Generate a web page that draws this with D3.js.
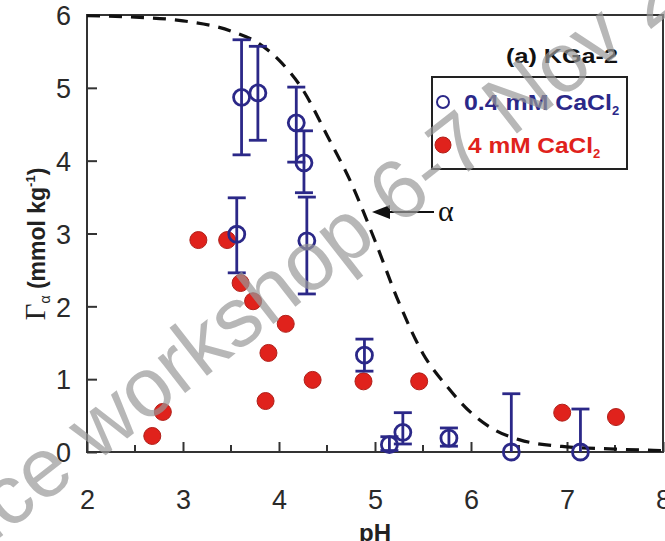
<!DOCTYPE html>
<html>
<head>
<meta charset="utf-8">
<script src="https://cdn.jsdelivr.net/npm/d3@7"></script>
<style>
  body { margin: 0; background: #fff; }
  svg { display: block; }
</style>
</head>
<body>
<div id="chart"></div>
<script>
// 0.4 mM CaCl2 : pH, surface excess, error bar low / high
const lowPH   = [3.61, 3.78, 4.18, 4.26, 4.29, 3.56, 4.89, 5.15, 5.29, 5.77, 6.42, 7.14];
const lowVal  = [4.87, 4.93, 4.52, 3.97, 2.90, 2.99, 1.33, 0.10, 0.27, 0.19, 0.00, 0.00];
const lowErrLo = [4.08, 4.28, 3.98, 3.56, 2.17, 2.46, 1.11, 0.02, 0.11, 0.08, 0.00, 0.00];
const lowErrHi = [5.66, 5.57, 5.01, 4.41, 3.50, 3.49, 1.55, 0.21, 0.54, 0.33, 0.80, 0.59];

// 4 mM CaCl2
const highPH  = [3.16, 3.46, 3.60, 3.73, 4.07, 3.89, 4.35, 3.86, 2.79, 2.68, 4.88, 5.46, 6.95, 7.51];
const highVal = [2.91, 2.91, 2.32, 2.07, 1.76, 1.36, 0.99, 0.70, 0.55, 0.22, 0.97, 0.97, 0.54, 0.48];

// dashed model curve
const curvePH  = [2.0, 2.5, 3.0, 3.5, 3.8, 4.0, 4.25, 4.5, 4.75, 5.0, 5.25, 5.5, 5.75, 6.0, 6.25, 6.5, 7.0, 7.5, 8.0];
const curveVal = [5.99, 5.97, 5.92, 5.78, 5.6, 5.38, 4.97, 4.35, 3.7, 2.9, 2.05, 1.35, 0.9, 0.54, 0.3, 0.17, 0.07, 0.04, 0.02];

const xTicks = [2, 3, 4, 5, 6, 7, 8];
const xMinor = [2.5, 3.5, 4.5, 5.5, 6.5, 7.5];
const yTicks = [0, 1, 2, 3, 4, 5, 6];

const width = 665, height = 541;
const navy = "#2b2888", red = "#e0221c";
const sans = "'Liberation Sans', Arial, sans-serif";
const serif = "'Liberation Serif', 'Times New Roman', serif";

const svg = d3.select("#chart").append("svg")
    .attr("width", width)
    .attr("height", height);

const x = d3.scaleLinear().domain([2, 8]).range([87, 663]);
const y = d3.scaleLinear().domain([0, 6]).range([452, 15]);

// frame
svg.append("rect")
    .attr("x", x(2)).attr("y", y(6))
    .attr("width", x(8) - x(2)).attr("height", y(0) - y(6))
    .attr("fill", "none").attr("stroke", "#333").attr("stroke-width", 2);

// x axis, ticks pointing in
const xAxis = svg.append("g")
    .attr("transform", `translate(0,${y(0)})`)
    .call(d3.axisBottom(x).tickValues(xTicks).tickSize(-10).tickPadding(36).tickFormat(d3.format("d")));
xAxis.append("g").selectAll("line")
    .data(xMinor)
    .join("line")
    .attr("x1", d => x(d)).attr("x2", d => x(d))
    .attr("y1", 0).attr("y2", -7)
    .attr("stroke", "#333").attr("stroke-width", 2);

const yAxis = svg.append("g")
    .attr("transform", `translate(${x(2)},0)`)
    .call(d3.axisLeft(y).tickValues(yTicks).tickSize(-10).tickPadding(16).tickFormat(d3.format("d")));

[xAxis, yAxis].forEach(g => {
    g.select(".domain").remove();
    g.selectAll(".tick line").attr("stroke", "#333").attr("stroke-width", 2);
    g.selectAll(".tick text")
        .attr("fill", "#2a2a2a")
        .style("font-family", sans)
        .style("font-size", "27px");
});
xAxis.selectAll(".tick text").attr("dy", 0).attr("y", 57);
yAxis.selectAll(".tick text").attr("dy", "0.36em");

// axis titles
svg.append("text")
    .attr("x", x(5)).attr("y", 541)
    .attr("text-anchor", "middle")
    .style("font-family", sans).style("font-size", "24px").style("font-weight", "bold")
    .attr("fill", "#222")
    .text("pH");

const ylab = svg.append("text")
    .attr("transform", "translate(45,244) rotate(-90)")
    .attr("text-anchor", "middle")
    .attr("fill", "#222");
ylab.append("tspan").style("font-family", serif).style("font-size", "29px").text("Γ");
ylab.append("tspan").style("font-family", sans).style("font-size", "14px").attr("dy", 5).text("α");
ylab.append("tspan").style("font-family", sans).style("font-size", "23px").style("font-weight", "bold").attr("dy", -5).text(" (mmol kg");
ylab.append("tspan").style("font-family", sans).style("font-size", "13px").style("font-weight", "bold").attr("dy", -10).text("-1");
ylab.append("tspan").style("font-family", sans).style("font-size", "23px").style("font-weight", "bold").attr("dy", 10).text(")");

// dashed curve
const curve = curvePH.map((p, i) => [p, curveVal[i]]);
svg.append("path")
    .datum(curve)
    .attr("fill", "none")
    .attr("stroke", "#111")
    .attr("stroke-width", 3.2)
    .attr("stroke-dasharray", "13,9")
    .attr("d", d3.line().x(d => x(d[0])).y(d => y(d[1])).curve(d3.curveMonotoneX));

// 4 mM points
svg.append("g").selectAll("circle")
    .data(highPH.map((p, i) => ({ p, v: highVal[i] })))
    .join("circle")
    .attr("cx", d => x(d.p)).attr("cy", d => y(d.v))
    .attr("r", 8.5)
    .attr("fill", red).attr("stroke", "#b0201a").attr("stroke-width", 1);

// 0.4 mM points with error bars
const lowData = lowPH.map((p, i) => ({ p, v: lowVal[i], lo: lowErrLo[i], hi: lowErrHi[i] }));
const eb = svg.append("g").attr("stroke", navy).attr("stroke-width", 2.8).attr("fill", "none");
eb.selectAll("line.bar").data(lowData).join("line").attr("class", "bar")
    .attr("x1", d => x(d.p)).attr("x2", d => x(d.p))
    .attr("y1", d => y(d.lo)).attr("y2", d => y(d.hi));
eb.selectAll("line.cap-hi").data(lowData).join("line").attr("class", "cap-hi")
    .attr("x1", d => x(d.p) - 9).attr("x2", d => x(d.p) + 9)
    .attr("y1", d => y(d.hi)).attr("y2", d => y(d.hi));
eb.selectAll("line.cap-lo").data(lowData.filter(d => d.lo < d.v)).join("line").attr("class", "cap-lo")
    .attr("x1", d => x(d.p) - 9).attr("x2", d => x(d.p) + 9)
    .attr("y1", d => y(d.lo)).attr("y2", d => y(d.lo));
eb.selectAll("circle").data(lowData).join("circle")
    .attr("cx", d => x(d.p)).attr("cy", d => y(d.v))
    .attr("r", 8);

// annotation arrow for alpha
svg.append("line")
    .attr("x1", 434).attr("x2", 388).attr("y1", 212).attr("y2", 212)
    .attr("stroke", "#111").attr("stroke-width", 2.2);
svg.append("path")
    .attr("d", "M372,212 L390,205 L390,219 Z")
    .attr("fill", "#111");
svg.append("text")
    .attr("x", 438).attr("y", 221)
    .style("font-family", serif).style("font-size", "30px")
    .attr("fill", "#111")
    .text("α");

// panel title and legend
svg.append("text")
    .attr("x", 506).attr("y", 63)
    .attr("textLength", 112).attr("lengthAdjust", "spacingAndGlyphs")
    .style("font-family", sans).style("font-size", "21px").style("font-weight", "bold")
    .attr("fill", "#111")
    .text("(a) KGa-2");

svg.append("rect")
    .attr("x", 432).attr("y", 77).attr("width", 195).attr("height", 92)
    .attr("fill", "#fff").attr("stroke", "#222").attr("stroke-width", 2);

const legend = [
    { label: "0.4 mM CaCl", color: navy, open: true, y: 102, x0: 464, len: 148 },
    { label: "4 mM CaCl", color: red, open: false, y: 145, x0: 468, len: 125 }
];
const lg = svg.append("g").selectAll("g").data(legend).join("g");
lg.append("circle")
    .attr("cx", 443).attr("cy", d => d.y)
    .attr("r", d => d.open ? 6 : 8)
    .attr("fill", d => d.open ? "none" : red)
    .attr("stroke", d => d.open ? navy : "#b0201a")
    .attr("stroke-width", d => d.open ? 2 : 1);
const lt = lg.append("text")
    .attr("x", d => d.x0).attr("y", d => d.y + 8)
    .attr("fill", d => d.color)
    .style("font-family", sans).style("font-size", "22px").style("font-weight", "bold");
lt.append("tspan")
    .attr("textLength", d => d.len).attr("lengthAdjust", "spacingAndGlyphs")
    .text(d => d.label);
lt.append("tspan").attr("dy", 5).style("font-size", "13px").text("2");

// watermark
svg.append("text")
    .attr("transform", "translate(-158,661) rotate(-38)")
    .style("font-family", sans).style("font-size", "84px")
    .attr("fill", "#999").attr("fill-opacity", 0.7)
    .text("Science workshop 6-7 Nov 2019");
</script>
</body>
</html>
